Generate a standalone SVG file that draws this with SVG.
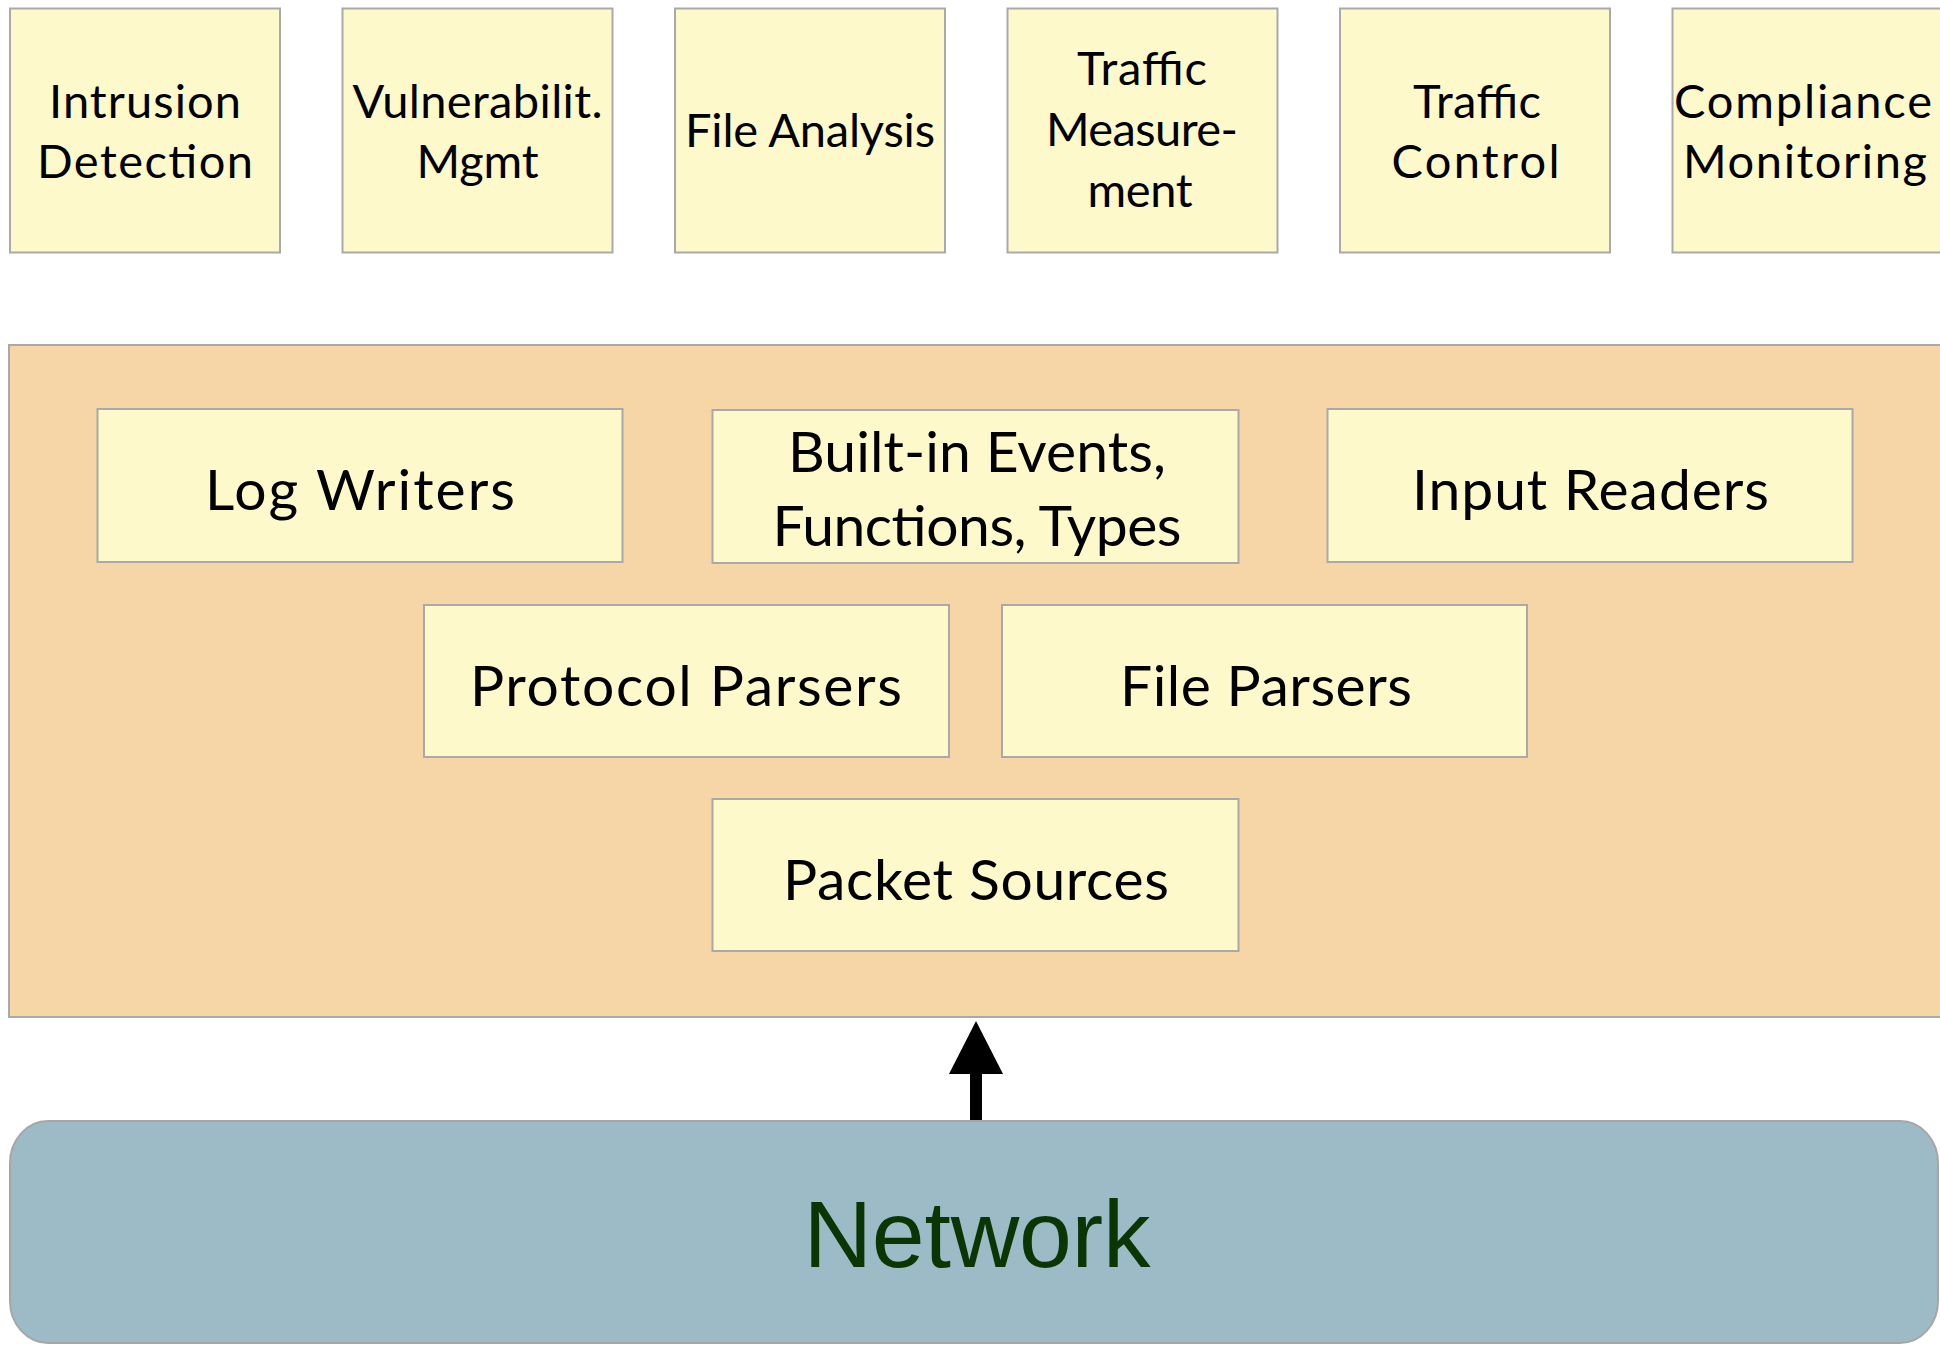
<svg xmlns="http://www.w3.org/2000/svg" width="1940" height="1345" viewBox="0 0 1940 1345">
  <style>
    .app { fill: #fdf9cb; stroke: #a9a9a9; stroke-width: 2; }
    .core { fill: #f6d5a7; stroke: #a9a9a9; stroke-width: 2; }
    .net { fill: #9dbbc7; stroke: #a6a6a6; stroke-width: 2; }
    .lbl { font-family: Lato, "Open Sans", "Liberation Sans", sans-serif; fill: #000; text-anchor: middle; }
    .top { font-size: 47px; }
    .mid { font-size: 57px; }
    .netlbl { font-family: "Liberation Sans", Arial, sans-serif; font-size: 95px; fill: #0b3503; text-anchor: middle; }
  </style>
  <defs>
    <marker id="head" markerUnits="userSpaceOnUse" viewBox="0 0 53 54" markerWidth="53" markerHeight="54" refX="6" refY="27" orient="auto">
      <path d="M0,0 L53,27 L0,54 Z" fill="#000"/>
    </marker>
  </defs>

  <rect width="1940" height="1345" fill="#ffffff"/>

  <!-- application layer -->
  <g id="intrusion-detection">
    <rect class="app" x="10" y="8.5" width="270" height="244"/>
    <text class="lbl top" x="145" y="117.5" textLength="192">Intrusion</text>
    <text class="lbl top" x="145" y="178" textLength="216">Detection</text>
  </g>
  <g id="vulnerability-mgmt">
    <rect class="app" x="342.5" y="8.5" width="270" height="244"/>
    <text class="lbl top" x="477.5" y="117.5" textLength="250">Vulnerabilit.</text>
    <text class="lbl top" x="477.5" y="178" textLength="122">Mgmt</text>
  </g>
  <g id="file-analysis">
    <rect class="app" x="675" y="8.5" width="270" height="244"/>
    <text class="lbl top" x="810" y="147" textLength="250">File Analysis</text>
  </g>
  <g id="traffic-measurement">
    <rect class="app" x="1007.5" y="8.5" width="270" height="244"/>
    <text class="lbl top" x="1142" y="85" textLength="130">Traffic</text>
    <text class="lbl top" x="1142" y="146" textLength="192">Measure-</text>
    <text class="lbl top" x="1140" y="207" textLength="105">ment</text>
  </g>
  <g id="traffic-control">
    <rect class="app" x="1340" y="8.5" width="270" height="244"/>
    <text class="lbl top" x="1477" y="117.5" textLength="128">Traffic</text>
    <text class="lbl top" x="1475.5" y="178" textLength="168">Control</text>
  </g>
  <g id="compliance-monitoring">
    <rect class="app" x="1672.5" y="8.5" width="270" height="244"/>
    <text class="lbl top" x="1803" y="117.5" textLength="258">Compliance</text>
    <text class="lbl top" x="1805" y="178" textLength="244">Monitoring</text>
  </g>

  <!-- core engine -->
  <g id="core">
    <rect class="core" x="9" y="345" width="1945" height="672"/>
  </g>
  <g id="log-writers">
    <rect class="app" x="97.5" y="409" width="525" height="153"/>
    <text class="lbl mid" x="360" y="510" textLength="310">Log Writers</text>
  </g>
  <g id="builtins">
    <rect class="app" x="712.5" y="410" width="526" height="153"/>
    <text class="lbl mid" x="977" y="472" textLength="378">Built-in Events,</text>
    <text class="lbl mid" x="977" y="546" textLength="409">Functions, Types</text>
  </g>
  <g id="input-readers">
    <rect class="app" x="1327.5" y="409" width="525" height="153"/>
    <text class="lbl mid" x="1590.5" y="510" textLength="357">Input Readers</text>
  </g>
  <g id="protocol-parsers">
    <rect class="app" x="424" y="605" width="525" height="152"/>
    <text class="lbl mid" x="686" y="706" textLength="432">Protocol Parsers</text>
  </g>
  <g id="file-parsers">
    <rect class="app" x="1002" y="605" width="525" height="152"/>
    <text class="lbl mid" x="1266" y="706" textLength="292">File Parsers</text>
  </g>
  <g id="packet-sources">
    <rect class="app" x="712.5" y="799" width="526" height="152"/>
    <text class="lbl mid" x="976" y="900" textLength="386">Packet Sources</text>
  </g>

  <!-- network -->
  <g id="network">
    <rect class="net" x="10" y="1121" width="1928" height="222" rx="38" ry="42"/>
    <text class="netlbl" x="977" y="1267" textLength="347">Network</text>
  </g>

  <!-- connectors -->
  <g id="connectors">
    <line x1="976" y1="1120" x2="976" y2="1068" stroke="#000" stroke-width="12" marker-end="url(#head)"/>
  </g>
</svg>
